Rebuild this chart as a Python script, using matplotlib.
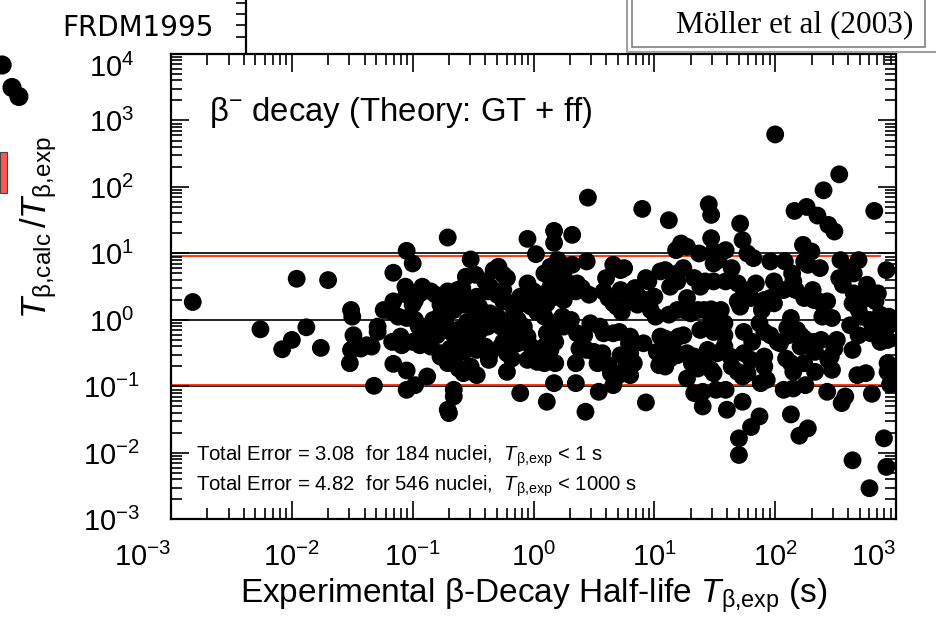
import numpy as np
import matplotlib
matplotlib.use('Agg')
from matplotlib import pyplot as plt
from matplotlib import ticker
from matplotlib.patches import Rectangle

plt.rcParams['font.family'] = ['Liberation Sans', 'DejaVu Sans']
plt.rcParams['mathtext.fontset'] = 'custom'
plt.rcParams['mathtext.rm'] = 'Liberation Sans'
plt.rcParams['mathtext.it'] = 'Liberation Sans:italic'
plt.rcParams['mathtext.bf'] = 'Liberation Sans:bold'

# nuclei as (log10 T_exp [s], log10 T_calc/T_exp)
short_lived = [
    (-2.82, 0.27), (-2.26, -0.14), (-2.08, -0.44), (-2.00, -0.30), (-1.88, -0.11),
    (-1.76, -0.42), (-1.96, 0.62), (-1.70, 0.60),
]
tenth_second = [
    (-0.71, 1.24), (-0.05, 1.22), (0.17, 1.34), (0.17, 1.16), (-1.05, 1.04), (0.02, 0.99),
    (-0.52, 0.91), (-1.00, 0.85), (-1.16, 0.71), (-0.56, 0.65), (-0.48, 0.68), (-0.33, 0.75),
    (-0.29, 0.80), (-0.25, 0.68), (-0.22, 0.63), (-0.40, 0.58), (-0.36, 0.50), (-0.05, 0.55),
    (0.00, 0.43), (0.09, 0.70), (0.14, 0.80), (0.20, 0.90),
    (-1.06, 0.50), (-1.05, 0.38), (-0.98, 0.30), (-1.00, 0.23), (-0.92, 0.50), (-0.94, 0.40),
    (-0.85, 0.43), (-0.81, 0.38), (-0.71, 0.43), (-0.63, 0.45), (-0.59, 0.48),
    (-1.16, 0.28), (-1.24, 0.15), (-1.17, 0.12), (-1.51, 0.15), (-1.50, 0.05), (-1.49, -0.23),
    (-1.29, -0.10), (-1.29, -0.18), (-1.12, 0.05), (-1.05, 0.03), (-0.98, 0.00), (-1.10, -0.25),
    (-1.17, -0.33), (-1.09, -0.38),
    (-1.51, -0.45), (-1.43, -0.43), (-1.38, -0.38), (-1.34, -0.40), (-1.52, -0.65), (-1.16, -0.66),
    (-1.05, -0.76),
    (-1.00, -0.33), (-0.94, -0.38), (-0.85, -0.40), (-0.91, -0.20), (-0.85, -0.25), (-0.95, -0.10),
    (-0.88, -0.10), (-0.83, 0.00), (-0.77, 0.08), (-0.73, 0.00),
    (-0.77, 0.23), (-0.70, 0.25), (-0.66, 0.15), (-0.63, 0.30), (-0.58, 0.23), (-0.52, 0.30),
    (-0.47, 0.35), (-0.45, 0.20),
    (-0.38, 0.43), (-0.30, 0.38), (-0.25, 0.45), (-0.25, 0.28), (-0.19, 0.25), (-0.16, 0.15),
    (-0.36, 0.10), (-0.30, 0.05), (-0.27, 0.00), (-0.41, 0.00), (-0.49, 0.05), (-0.55, -0.03),
    (-0.77, -0.05), (-0.71, -0.15), (-0.67, -0.20), (-0.63, -0.15), (-0.80, -0.23),
    (-0.63, -0.30), (-0.55, -0.20), (-0.52, -0.30), (-0.47, -0.28), (-0.44, -0.15), (-0.38, -0.10),
    (-0.77, -0.50), (-0.69, -0.43), (-0.62, -0.38), (-0.58, -0.48), (-0.52, -0.40), (-0.47, -0.45),
    (-0.40, -0.40), (-0.36, -0.50), (-0.37, -0.60),
    (-0.77, -0.55), (-0.71, -0.65), (-0.66, -0.60), (-0.62, -0.73), (-0.58, -0.80), (-0.52, -0.70),
    (-0.47, -0.83),
    (-0.27, -0.10), (-0.22, -0.15), (-0.19, -0.25), (-0.25, -0.33), (-0.27, -0.40), (-0.22, -0.50),
    (-0.18, -0.58), (-0.22, -0.78),
    (-0.13, 0.00), (-0.08, -0.10), (-0.11, -0.20), (-0.13, -0.35), (-0.05, -0.25), (-0.02, -0.40),
    (0.00, -0.50), (0.03, -0.63), (-0.05, -0.60), (0.09, -0.65),
    (-0.11, 0.35), (-0.08, 0.25), (-0.02, 0.20), (0.03, 0.12), (0.09, 0.05), (0.11, 0.25),
    (0.17, 0.35), (0.06, 0.38), (0.00, 0.28),
    (0.14, 0.65), (0.14, 0.50), (0.20, 0.55), (0.22, 0.70),
    (0.11, -0.20), (0.17, -0.30), (0.14, -0.45), (0.09, -0.40), (0.17, -0.10), (0.22, 0.00),
    (-0.11, -1.10), (0.11, -1.23), (0.17, -0.95), (-1.32, -0.99), (-1.05, -1.05), (-0.98, -0.98),
    (-0.66, -1.05), (-0.66, -1.15), (-0.71, -1.35), (-0.70, -1.40), (-0.88, -0.85),
]
ten_second = [
    (1.12, 1.50), (1.71, 1.45), (0.32, 1.28), (1.47, 1.23), (1.73, 1.20), (1.22, 1.15),
    (1.27, 1.10), (1.18, 1.05), (1.37, 1.00), (1.49, 1.03), (1.59, 1.05), (1.77, 1.00),
    (1.82, 0.93), (0.44, 0.88), (1.49, 0.85), (1.53, 0.90), (1.96, 0.88), (1.64, 0.78),
    (0.22, 0.85), (0.32, 0.83), (0.66, 0.83), (0.72, 0.75), (0.75, 0.78), (0.60, 0.63),
    (0.25, 0.65), (0.28, 0.55), (0.36, 0.55), (0.40, 0.48), (0.35, 0.43), (0.20, 0.35),
    (0.25, 0.30), (0.46, 0.38), (0.58, 0.43), (0.62, 0.33), (0.66, 0.25), (0.72, 0.45),
    (0.84, 0.48), (0.87, 0.35), (0.93, 0.63), (0.95, 0.58), (1.05, 0.73), (1.09, 0.75),
    (1.19, 0.70), (1.24, 0.78), (1.13, 0.50), (1.19, 0.58), (1.33, 0.63), (1.38, 0.50),
    (1.42, 0.58), (1.49, 0.58), (1.59, 0.58), (1.69, 0.55), (1.74, 0.45), (1.84, 0.55),
    (1.99, 0.58),
    (0.65, 0.30), (0.73, 0.12), (0.69, 0.20), (0.80, 0.28), (0.86, 0.23), (0.93, 0.30),
    (1.00, 0.35), (0.97, 0.15), (1.01, 0.05), (1.12, 0.08), (1.19, 0.15), (1.24, 0.15),
    (1.30, 0.10), (1.36, 0.15), (1.41, 0.15), (1.47, 0.16), (1.55, 0.15), (1.27, 0.33),
    (1.80, 0.33), (1.91, 0.30), (1.96, 0.33), (1.69, 0.28), (1.71, 0.20), (1.89, 0.15),
    (0.20, -0.05), (0.25, -0.10), (0.31, 0.00), (0.24, 0.05), (0.18, -0.33), (0.36, -0.20),
    (0.42, -0.23), (0.47, -0.05), (0.55, -0.10), (0.58, -0.20), (0.66, -0.20), (0.71, -0.18),
    (0.80, -0.25), (0.79, -0.35), (0.91, -0.35), (1.05, -0.25), (1.09, -0.28), (1.20, -0.25),
    (1.24, -0.23), (1.38, -0.15), (1.47, -0.05), (1.49, -0.18), (1.58, -0.05), (1.58, -0.23),
    (1.74, -0.18), (1.81, -0.33), (1.87, -0.05), (1.91, -0.18), (1.96, -0.23),
    (0.38, -0.43), (0.44, -0.45), (0.50, -0.48), (0.57, -0.50), (0.35, -0.65), (0.53, -0.65),
    (0.62, -0.68), (0.64, -0.80), (0.69, -0.85), (0.72, -0.53), (0.80, -0.50), (0.83, -0.65),
    (0.76, -0.73), (0.80, -0.83), (1.02, -0.48), (1.07, -0.55), (1.04, -0.68), (1.09, -0.70),
    (1.15, -0.40), (1.19, -0.53), (1.13, -0.58), (1.27, -0.50), (1.33, -0.55), (1.31, -0.65),
    (1.36, -0.73), (1.27, -0.88), (1.41, -0.65), (1.47, -0.75), (1.49, -0.80), (1.44, -0.45),
    (1.52, -0.50), (1.58, -0.40), (1.63, -0.55), (1.64, -0.70), (1.69, -0.78), (1.73, -0.85),
    (1.77, -0.80), (1.74, -0.50), (1.80, -0.60), (1.91, -0.55), (1.91, -0.70), (1.93, -0.90),
    (1.88, -0.95), (0.18, -0.65),
    (0.35, -0.95), (0.54, -1.08), (0.66, -0.98), (0.93, -1.24), (0.43, -1.38), (1.33, -1.10),
    (1.40, -1.08), (1.40, -1.30), (1.51, -1.05), (1.59, -1.05), (1.60, -1.35), (1.73, -1.23),
    (1.70, -1.78), (1.70, -2.03), (1.80, -1.61), (1.87, -1.45),
    (0.45, 1.84), (0.90, 1.67), (1.45, 1.74), (1.47, 1.58),
]
long_lived = [
    (2.00, 2.79), (2.53, 2.19), (2.40, 1.95), (2.16, 1.64), (2.26, 1.70), (2.35, 1.57), (2.82, 1.64),
    (2.44, 1.43), (2.49, 1.33), (2.23, 1.13), (2.30, 1.03), (2.08, 0.88), (2.24, 0.88), (2.27, 0.83),
    (2.37, 0.78), (2.54, 0.90), (2.60, 0.78), (2.65, 0.70), (2.69, 0.90), (2.92, 0.75),
    (2.07, 0.45), (2.14, 0.70), (2.15, 0.58), (2.17, 0.45), (1.99, 0.25), (2.24, 0.33), (2.31, 0.45),
    (2.32, 0.30), (2.36, 0.28), (2.43, 0.28), (2.53, 0.63), (2.56, 0.53), (2.65, 0.40), (2.64, 0.25),
    (2.68, 0.28), (2.76, 0.53), (2.75, 0.43), (2.72, 0.30), (2.85, 0.40), (2.83, 0.28),
    (2.69, 0.15), (2.71, 0.05), (2.78, 0.00), (2.87, 0.08), (2.94, 0.05), (2.93, -0.10),
    (2.39, 0.05), (2.47, 0.03), (2.62, -0.08), (2.13, 0.03),
    (2.10, -0.12), (2.18, -0.15), (2.21, -0.23), (2.11, -0.23), (2.02, -0.33), (2.04, -0.35),
    (2.24, -0.28), (2.32, -0.33), (2.38, -0.30), (2.51, -0.30), (2.49, -0.43), (2.46, -0.55),
    (2.69, -0.23), (2.79, -0.20), (2.84, -0.12), (2.87, -0.33), (2.93, -0.30),
    (2.21, -0.40), (2.31, -0.43), (2.33, -0.48), (2.64, -0.45), (2.09, -0.58), (2.13, -0.65),
    (2.15, -0.78), (2.24, -0.65), (2.33, -0.78), (2.44, -0.60), (2.47, -0.75), (2.68, -0.83),
    (2.75, -0.80), (2.93, -0.65), (2.93, -0.78),
    (2.07, -1.05), (2.15, -1.03), (2.25, -0.98), (2.43, -1.08), (2.58, -1.15), (2.55, -1.25),
    (2.80, -1.11), (2.95, -0.97), (2.13, -1.42), (2.27, -1.63), (2.20, -1.74), (2.90, -1.78),
    (2.64, -2.11), (2.92, -2.21), (2.78, -2.53),
]

ref_levels = [10.0, 1.0, 0.1]
red_levels = [9.1, 0.105]
red_xmax = 750.0

error_lines = [
    ('3.08', 184, '1'),
    ('4.82', 546, '1000'),
]

# bits of the neighbouring panels that are cut into this picture
nb_dots_x = [0.07, 0.40, 0.63]
nb_dots_y = [0.90, 0.75, 0.69]
nb_bar = (0.0, 0.233, 0.047, 0.32)   # x0, x1, y0, y1
nb_ticks = [0.26, 0.45, 0.62, 0.80]

T_EXP = r'$T_{\mathrm{\beta{,}exp}}$'
T_CALC = r'$T_{\mathrm{\beta{,}calc}}$'


def main():
    pts = np.array(short_lived + tenth_second + ten_second + long_lived)
    t_exp = 10 ** pts[:, 0]
    ratio = 10 ** pts[:, 1]

    fig = plt.figure(figsize=(9.36, 6.27), dpi=100)
    ax = fig.add_axes([0.1827, 0.1715, 0.7746, 0.7424])
    ax.set_xscale('log')
    ax.set_yscale('log')
    ax.set_xlim(1e-3, 1e3)
    ax.set_ylim(1e-3, 1e4)

    for lv in ref_levels:
        ax.axhline(lv, color='#222222', lw=1.4, zorder=1)
    for lv in red_levels:
        ax.hlines(lv, 1e-3, red_xmax, color='#ff2a00', lw=1.3, zorder=1.5)

    ax.scatter(t_exp, ratio, s=165, c='black', edgecolors='none', zorder=3)

    for axis in (ax.xaxis, ax.yaxis):
        axis.set_major_locator(ticker.LogLocator(base=10, numticks=20))
        axis.set_minor_locator(ticker.LogLocator(base=10, subs=np.arange(2, 10), numticks=100))
        axis.set_minor_formatter(ticker.NullFormatter())

    for sp in ax.spines.values():
        sp.set_linewidth(1.6)
    ax.tick_params(which='both', direction='in', top=True, right=True, width=1.2,
                   labelsize=21)
    ax.tick_params(which='major', length=13)
    ax.tick_params(which='minor', length=8)
    ax.tick_params(axis='x', pad=17)
    ax.tick_params(axis='y', pad=43)

    # end labels sit to the left of / below their ticks, as in the original
    for loc, tk in zip(ax.xaxis.get_majorticklocs(), ax.xaxis.get_major_ticks()):
        if np.isclose(loc, 1e-3) or np.isclose(loc, 1e3):
            tk.label1.set_horizontalalignment('right')
    for loc, tk in zip(ax.yaxis.get_majorticklocs(), ax.yaxis.get_major_ticks()):
        tk.label1.set_horizontalalignment('center')
        if np.isclose(loc, 1e4):
            tk.label1.set_verticalalignment('top')

    ax.set_xlabel('Experimental β-Decay Half-life ' + T_EXP + ' (s)', fontsize=24)
    ax.xaxis.set_label_coords(0.5, -0.122)
    ax.xaxis.label.set_verticalalignment('top')
    ax.set_ylabel(T_CALC + r'$\,/$' + T_EXP, fontsize=25)
    ax.yaxis.set_label_coords(-0.182, 0.626)
    ax.yaxis.label.set_verticalalignment('center')

    ax.text(0.052, 0.857, r'β$^{-}$ decay (Theory: GT + ff)', transform=ax.transAxes,
            fontsize=23.7, va='baseline', ha='left')
    for i, (err, n, tmax) in enumerate(error_lines):
        ax.text(0.035, 0.126 - i * 0.065,
                'Total Error = %s  for %d nuclei,  %s < %s s' % (err, n, T_EXP, tmax),
                transform=ax.transAxes, fontsize=14.6, va='baseline', ha='left')

    # upper neighbour panel: only its right spine shows
    ax_top = fig.add_axes([0.0, 0.9155, 0.2625, 0.1])
    ax_top.set_facecolor('none')
    for k in ('left', 'top', 'bottom'):
        ax_top.spines[k].set_visible(False)
    ax_top.spines['right'].set_linewidth(1.6)
    ax_top.set_ylim(0, 1)
    ax_top.set_xticks([])
    ax_top.yaxis.tick_right()
    ax_top.set_yticks(nb_ticks)
    ax_top.tick_params(axis='y', direction='in', length=7, width=1.2, labelright=False)
    fig.text(0.066, 0.942, 'FRDM1995', fontsize=20, family='DejaVu Sans', va='baseline')

    # left neighbour panel fragments
    ax_nb = fig.add_axes([0.0, 1 - 200 / 627, 30 / 936, 150 / 627])
    ax_nb.set_xlim(0, 1)
    ax_nb.set_ylim(0, 1)
    ax_nb.axis('off')
    ax_nb.scatter(nb_dots_x, nb_dots_y, s=190, c='black', edgecolors='none', clip_on=False)
    ax_nb.add_patch(Rectangle((nb_bar[0], nb_bar[2]), nb_bar[1] - nb_bar[0], nb_bar[3] - nb_bar[2],
                              facecolor='#ff5555', edgecolor='#444444', lw=0.8))

    # reference box
    fig.patches.append(Rectangle((626.7 / 936, 1 - 51.7 / 627), 0.4, 0.2, transform=fig.transFigure,
                                 facecolor='white', edgecolor='#a0a0a0', lw=1.5))
    fig.patches.append(Rectangle((631.7 / 936, 1 - 46.7 / 627), (925 - 631.7) / 936, 0.2,
                                 transform=fig.transFigure, facecolor='white', edgecolor='#808080', lw=1.2))
    fig.text(913 / 936, 1 - 32 / 627, 'Möller et al (2003)', fontsize=22.5, family='Liberation Serif',
             ha='right', va='baseline')

    fig.savefig('out.png', dpi=100)


if __name__ == '__main__':
    main()
